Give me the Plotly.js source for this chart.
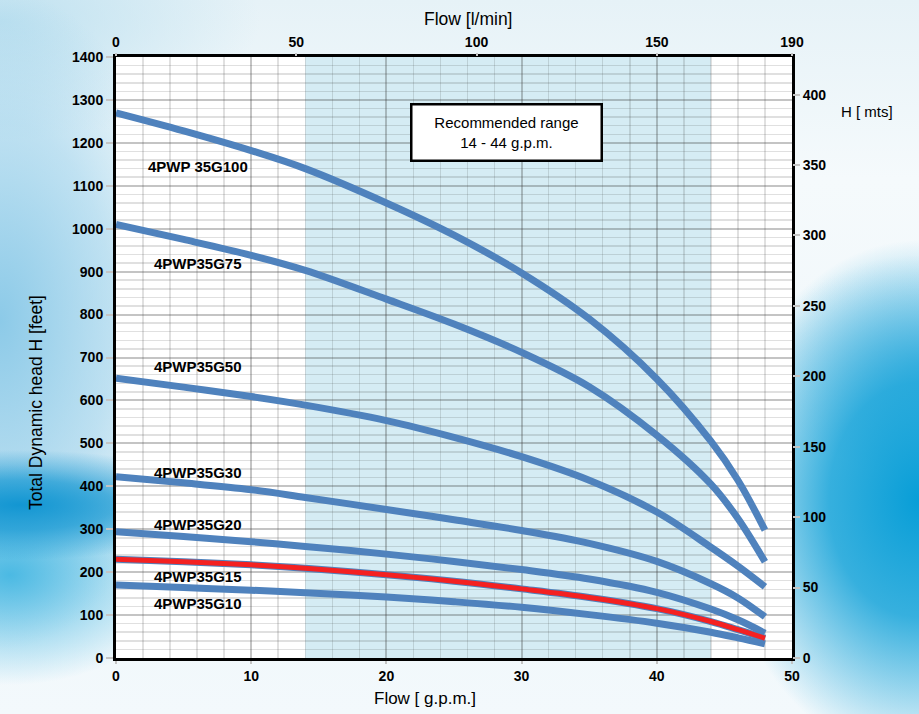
<!DOCTYPE html>
<html>
<head>
<meta charset="utf-8">
<script src="https://cdn.plot.ly/plotly-3.0.1.min.js"></script>
<style>
  html, body { margin: 0; padding: 0; width: 919px; height: 714px; overflow: hidden; }
  body {
    background:
      radial-gradient(ellipse 210px 55px at 20px 505px, rgba(18,150,210,1) 0%, rgba(18,150,210,0.7) 45%, rgba(18,150,210,0) 100%),
      radial-gradient(ellipse 170px 110px at 10px 575px, rgba(60,180,225,0.9) 0%, rgba(60,180,225,0) 100%),
      radial-gradient(ellipse 200px 260px at 919px 500px, rgba(8,158,215,1) 0%, rgba(8,158,215,0.8) 45%, rgba(8,158,215,0) 100%),
      radial-gradient(ellipse 150px 110px at 919px 365px, rgba(140,205,235,0.8) 0%, rgba(140,205,235,0) 100%),
      radial-gradient(ellipse 190px 330px at 0px 320px, rgba(140,202,232,1) 0%, rgba(140,202,232,0.5) 60%, rgba(140,202,232,0) 100%),
      radial-gradient(ellipse 260px 120px at 0px 20px, rgba(190,225,240,1) 0%, rgba(190,225,240,0) 100%),
      linear-gradient(180deg, #e6f2f7 0%, #f5fafc 25%, #eef6fa 70%, #f3f9fc 100%);
  }
  #chart { width: 919px; height: 714px; }
</style>
</head>
<body>
<div id="chart"></div>
<script>
// flow points in g.p.m. and head in feet
const flowGpm = [0, 5, 10, 14, 20, 25, 30, 35, 40, 44, 46, 48];
const headG100 = [1270, 1228, 1182, 1140, 1060, 985, 897, 790, 650, 505, 414, 298];
const headG75  = [1010, 975, 938, 903, 836, 778, 712, 632, 519, 405, 325, 224];
const headG50  = [652, 631, 609, 589, 553, 514, 469, 414, 340, 258, 214, 166];
const headG30  = [422, 408, 392, 374, 346, 322, 297, 267, 225, 173, 140, 96];
const headG20  = [294, 283, 271, 260, 242, 225, 206, 184, 153, 114, 89, 58];
const headG15  = [230, 224, 217, 209, 194, 179, 161, 141, 115, 85, 66, 46];
const headG10  = [170, 164, 158, 152, 142, 131, 118, 101, 81, 60, 47, 33];

const pumpNames = ["4PWP 35G100", "4PWP35G75", "4PWP35G50", "4PWP35G30", "4PWP35G20", "4PWP35G15", "4PWP35G10"];
const pumpHeads = [headG100, headG75, headG50, headG30, headG20, headG15, headG10];

const recRange = [14, 44];           // recommended range, g.p.m.
const lpmTicks = [0, 50, 100, 150, 187.5];
const lpmLabels = ["0", "50", "100", "150", "190"];
const FT_PER_M = 3.2808;

const blue = "#4f82bd";
const red = "#f42121";

let traces = [];
pumpHeads.forEach(function(h, i) {
  traces.push({
    x: flowGpm, y: h, type: "scatter", mode: "lines",
    name: pumpNames[i],
    line: { color: blue, width: 7, shape: "spline", smoothing: 1 },
    hoverinfo: "name+y", showlegend: false
  });
});
// the G15 curve is highlighted in red
traces.push({
  x: flowGpm, y: headG15, type: "scatter", mode: "lines",
  name: pumpNames[5],
  line: { color: red, width: 5, shape: "spline", smoothing: 1 },
  hoverinfo: "name+y", showlegend: false
});
// empty trace so the secondary axes get drawn
traces.push({ x: [], y: [], xaxis: "x2", yaxis: "y2", type: "scatter", hoverinfo: "skip", showlegend: false });

const FAM = "Liberation Sans, Arial, sans-serif";
const tickFont = { family: FAM, size: 14, color: "#000", weight: "bold" };
const labelFont = { family: FAM, size: 15, color: "#000", weight: "bold" };

// label positions next to each curve (gpm, feet)
const labelY = [1146, 918, 678, 433, 312, 189, 126];
let annotations = pumpNames.map(function(n, i) {
  return { x: 6.1, y: labelY[i], xref: "x", yref: "y", text: n, showarrow: false,
           font: labelFont, xanchor: "center", yanchor: "middle" };
});
annotations.push({
  x: 28.9, y: 1225, xref: "x", yref: "y", showarrow: false,
  text: "Recommended range<br>14 - 44 g.p.m.",
  font: { family: FAM, size: 15, color: "#000" },
  bgcolor: "#fff", bordercolor: "#000", borderwidth: 2.5, borderpad: 0,
  width: 188, height: 54, xanchor: "center", yanchor: "middle"
});

// axis titles placed in pixels, converted to paper coords below
const L = 116, R = 127, T = 57, B = 56, W = 919, H = 714;
function pxNote(px, py, text, size, angle) {
  return { x: (px - L) / (W - L - R), y: 1 - (py - T) / (H - T - B), xref: "paper", yref: "paper",
           text: text, showarrow: false, textangle: angle || 0, xanchor: "center", yanchor: "middle",
           font: { family: FAM, size: size, color: "#000" } };
}
annotations.push(pxNote(425, 698, "Flow [ g.p.m.]", 17));
annotations.push(pxNote(468, 19, "Flow [l/min]", 17.5));
annotations.push(pxNote(867, 111, "H [ mts]", 15));
annotations.push(pxNote(36, 403, "Total Dynamic head H [feet]", 17.5, -90));

const layout = {
  width: W, height: H,
  margin: { l: L, r: R, t: T, b: B, pad: 0 },
  paper_bgcolor: "rgba(0,0,0,0)",
  plot_bgcolor: "#fff",
  font: { family: FAM },
  xaxis: {
    range: [0, 50], dtick: 10, tick0: 0, fixedrange: true,
    showgrid: true, gridcolor: "rgba(60,60,60,0.3)", gridwidth: 2,
    minor: { dtick: 2, showgrid: true, gridcolor: "rgba(60,60,60,0.16)", gridwidth: 1.5 },
    zeroline: false, showline: true, linecolor: "#000", linewidth: 3, mirror: true,
    ticks: "outside", ticklen: 3, tickwidth: 2, tickcolor: "#c4c4c4",
    tickfont: tickFont
  },
  yaxis: {
    range: [0, 1400], dtick: 100, tick0: 0, fixedrange: true,
    showgrid: true, gridcolor: "rgba(60,60,60,0.3)", gridwidth: 2,
    minor: { dtick: 20, showgrid: true, gridcolor: "rgba(60,60,60,0.16)", gridwidth: 1.5 },
    zeroline: false, showline: true, linecolor: "#000", linewidth: 3, mirror: true,
    ticks: "outside", ticklen: 7, tickwidth: 2, tickcolor: "#c4c4c4",
    tickfont: tickFont
  },
  xaxis2: {
    overlaying: "x", side: "top", anchor: "y", range: [0, 187.5],
    tickmode: "array", tickvals: lpmTicks, ticktext: lpmLabels,
    showgrid: false, zeroline: false, fixedrange: true,
    ticks: "outside", ticklen: 3, tickwidth: 2, tickcolor: "#c4c4c4",
    tickfont: tickFont
  },
  yaxis2: {
    overlaying: "y", side: "right", anchor: "x", range: [0, 1400 / FT_PER_M],
    dtick: 50, tick0: 0, showgrid: false, zeroline: false, fixedrange: true,
    ticks: "outside", ticklen: 7, tickwidth: 2, tickcolor: "#c4c4c4",
    tickfont: tickFont
  },
  shapes: [{
    type: "rect", xref: "x", yref: "paper", x0: recRange[0], x1: recRange[1], y0: 0, y1: 1,
    fillcolor: "#d5ecf4", line: { width: 0 }, layer: "below"
  }],
  annotations: annotations,
  showlegend: false
};

Plotly.newPlot("chart", traces, layout, { displayModeBar: false, staticPlot: true });
</script>
</body>
</html>
